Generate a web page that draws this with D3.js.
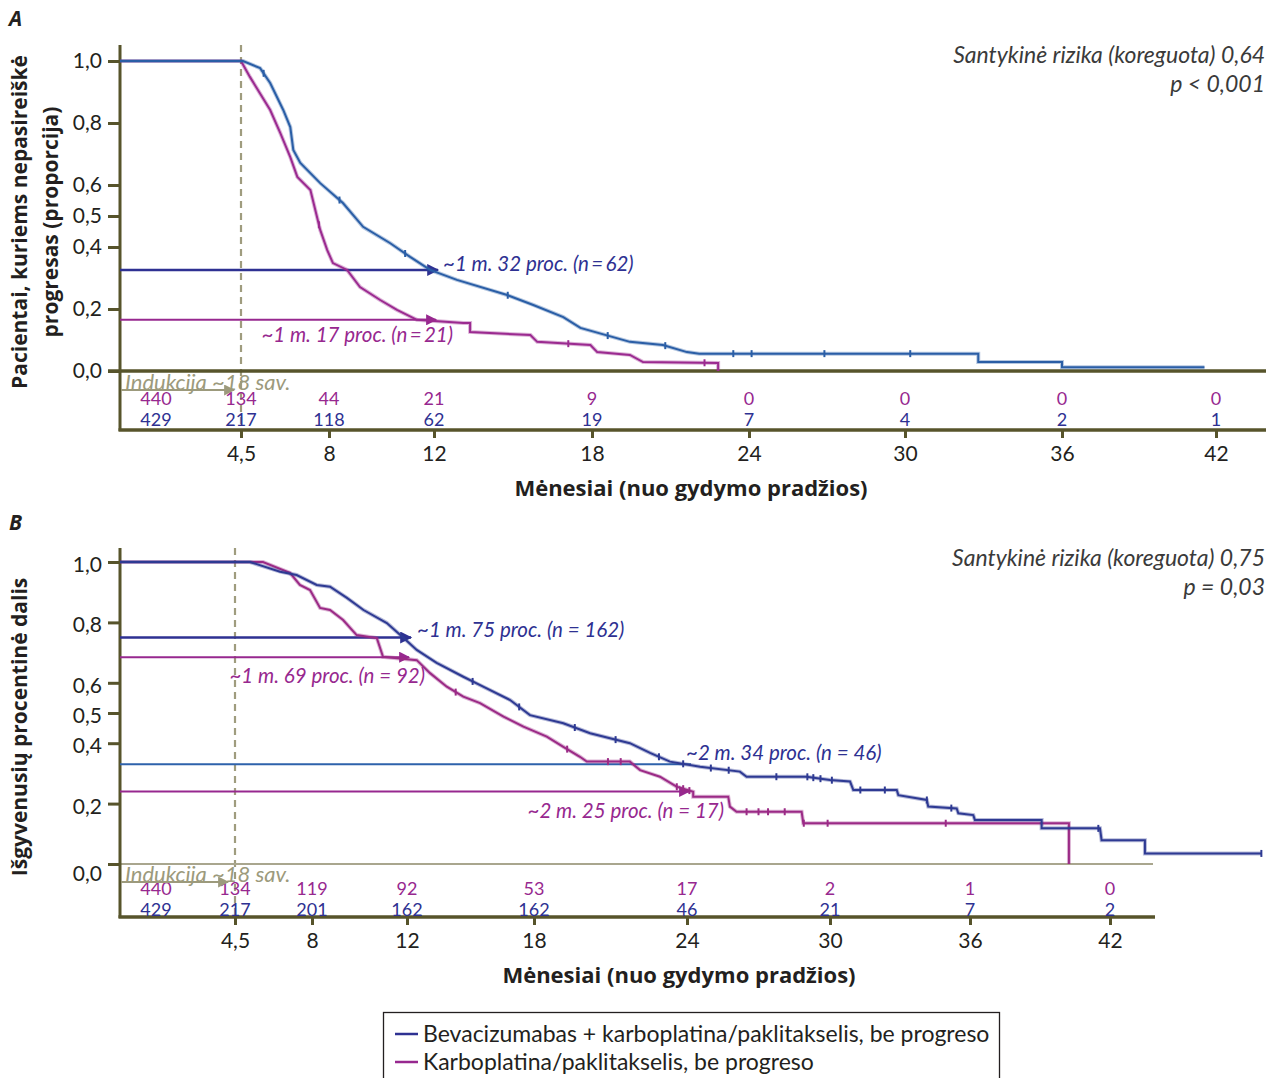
<!DOCTYPE html>
<html>
<head>
<meta charset="utf-8">
<script src="https://cdn.jsdelivr.net/npm/d3@7"></script>
<style>
  body { margin: 0; background: #fff; }
  text { font-family: Lato, "Open Sans", sans-serif; }
</style>
</head>
<body>
<div id="chart"></div>
<script>
// ---- data ----
var xTickMonths = [4.5, 8, 12, 18, 24, 30, 36, 42];
var xTickLabels = ["4,5", "8", "12", "18", "24", "30", "36", "42"];
var yTickValues = [0, 0.2, 0.4, 0.5, 0.6, 0.8, 1.0];
var yTickLabels = ["0,0", "0,2", "0,4", "0,5", "0,6", "0,8", "1,0"];

var riskMonths = [0, 4.5, 8, 12, 18, 24, 30, 36, 42];
var riskA_carbo = [440, 134, 44, 21, 9, 0, 0, 0, 0];
var riskA_bev   = [429, 217, 118, 62, 19, 7, 4, 2, 1];
var riskB_carbo = [440, 134, 119, 92, 53, 17, 2, 1, 0];
var riskB_bev   = [429, 217, 201, 162, 162, 46, 21, 7, 2];

// panel A: progression-free survival
var monthsA_bev = [0, 4.58, 5.26, 5.66, 6.18, 6.46, 6.58, 6.86, 7.65, 8.53, 9.30, 10.32, 11.09, 11.85,
  12.87, 14.78, 15.77, 16.91, 17.56, 19.45, 20.71, 21.63, 22.1, 32.8, 32.8, 36.0, 36.0, 41.55];
var survA_bev = [1, 1, 0.977, 0.929, 0.842, 0.787, 0.713, 0.671, 0.606, 0.542, 0.465, 0.413, 0.368, 0.326,
  0.294, 0.245, 0.213, 0.174, 0.139, 0.094, 0.084, 0.061, 0.056, 0.056, 0.029, 0.029, 0.012, 0.012];
var monthsA_carbo = [0, 4.5, 4.86, 5.66, 6.06, 6.46, 6.74, 7.26, 7.65, 7.93, 8.15, 8.69, 9.18, 9.95,
  10.59, 11.35, 13.11, 13.37, 13.37, 15.66, 15.92, 17.94, 18.2, 19.45, 19.95, 22.82, 22.82];
var survA_carbo = [1, 1, 0.948, 0.842, 0.768, 0.690, 0.626, 0.584, 0.455, 0.390, 0.348, 0.326, 0.271, 0.229,
  0.197, 0.165, 0.155, 0.155, 0.126, 0.116, 0.094, 0.084, 0.061, 0.052, 0.029, 0.026, 0];
var censA_bev = [5.4, 8.4, 10.9, 14.8, 18.6, 20.8, 23.4, 24.1, 26.9, 30.2];
var censA_carbo = [7.6, 17.1, 22.3];

// panel B: overall survival
var monthsB_bev = [0, 5.18, 6.55, 7.30, 8.20, 8.76, 9.47, 10.17, 11.15, 11.86, 12.46, 13.40, 14.66, 15.60,
  16.87, 17.81, 19.15, 20.20, 21.76, 22.55, 23.33, 24.55, 26.22, 26.5, 29.02, 30.0, 30.86, 31.0, 32.86,
  32.93, 34.15, 34.21, 35.43, 35.5, 36.14, 36.21, 39.07, 39.07, 41.57, 41.64, 43.5, 43.5, 48.52];
var survB_bev = [1, 1, 0.968, 0.957, 0.924, 0.918, 0.881, 0.841, 0.798, 0.748, 0.709, 0.666, 0.620, 0.587,
  0.543, 0.493, 0.466, 0.433, 0.400, 0.368, 0.339, 0.322, 0.306, 0.289, 0.289, 0.278, 0.273, 0.245, 0.245,
  0.228, 0.212, 0.190, 0.184, 0.168, 0.162, 0.146, 0.146, 0.118, 0.118, 0.079, 0.079, 0.035, 0.035];
var monthsB_carbo = [0, 5.77, 7.0, 7.45, 7.91, 8.34, 8.76, 9.31, 9.88, 10.73, 10.99, 12.46, 13.09, 13.88,
  14.66, 15.45, 16.56, 17.50, 18.50, 19.15, 19.80, 20.07, 21.76, 22.16, 22.94, 23.59, 24.26, 24.26, 25.73,
  25.80, 26.08, 28.81, 28.88, 40.24, 40.24];
var survB_carbo = [1, 1, 0.964, 0.924, 0.907, 0.848, 0.841, 0.808, 0.758, 0.748, 0.686, 0.675, 0.632, 0.587,
  0.554, 0.533, 0.488, 0.455, 0.422, 0.388, 0.355, 0.339, 0.339, 0.311, 0.289, 0.256, 0.239, 0.223, 0.223,
  0.190, 0.173, 0.173, 0.135, 0.135, 0];
var censB_bev = [15.1, 17.3, 19.6, 21.2, 22.9, 23.85, 25.0, 25.75, 27.75, 29.05, 29.3, 29.6, 30.08, 31.3,
  32.35, 34.15, 35.2, 41.5, 48.5];
var censB_carbo = [14.3, 19.3, 20.9, 21.4, 23.6, 23.85, 24.1, 26.5, 27.0, 27.4, 28.1, 28.9, 29.9, 34.96];

var refA_months = [12, 12];
var refA_surv = [0.326, 0.165];
var refA_series = ["bev", "carbo"];
var refA_labels = ["~1 m. 32 proc. (n\u2009=\u200962)", "~1 m. 17 proc. (n\u2009=\u200921)"];

var refB_months = [12, 12, 24, 24];
var refB_surv = [0.75, 0.685, 0.33, 0.24];
var refB_series = ["bev", "carbo", "bev2", "carbo"];
var refB_labels = ["~1 m. 75 proc. (n = 162)", "~1 m. 69 proc. (n = 92)",
  "~2 m. 34 proc. (n = 46)", "~2 m. 25 proc. (n = 17)"];

var hrA = ["Santykinė rizika (koreguota) 0,64", "p < 0,001"];
var hrB = ["Santykinė rizika (koreguota) 0,75", "p = 0,03"];
var legendLabels = ["Bevacizumabas + karboplatina/paklitakselis, be progreso",
  "Karboplatina/paklitakselis, be progreso"];

// ---- styles ----
var olive = "#57542b";
var oliveLight = "#a9a68e";
var induct = "#9c9a7c";
var blueText = "#2e3192";
var purple = "#97288f";
var colors = {
  A: { bev: "#2a5ea6", carbo: "#9b2a90" },
  B: { bev: "#2e3a93", carbo: "#9b2a86", bev2: "#2e62ab" }
};
var boldFont = "'Open Sans', Lato, sans-serif";

var svg = d3.select("#chart").append("svg")
  .attr("width", 1276)
  .attr("height", 1078);

var defs = svg.append("defs");
function marker(id, color, w, h) {
  defs.append("marker")
    .attr("id", id)
    .attr("viewBox", "0 0 10 10")
    .attr("refX", 9).attr("refY", 5)
    .attr("markerWidth", w).attr("markerHeight", h)
    .attr("markerUnits", "userSpaceOnUse")
    .attr("orient", "auto")
    .append("path")
    .attr("d", "M0,0 L10,5 L0,10 Z")
    .attr("fill", color);
}
marker("arrBlue", blueText, 13, 12);
marker("arrPurple", purple, 12, 11);
marker("arrInd", induct, 12, 11);

function curveValue(ms, ss, t) {
  var i = d3.bisectRight(ms, t);
  if (i <= 0) return ss[0];
  if (i >= ms.length) return ss[ss.length - 1];
  var t0 = ms[i - 1], t1 = ms[i];
  if (t1 === t0) return ss[i];
  return ss[i - 1] + (ss[i] - ss[i - 1]) * (t - t0) / (t1 - t0);
}

function drawPanel(p) {
  var g = svg.append("g");
  var x = p.x, y = p.y;

  g.append("text")
    .attr("x", 9).attr("y", p.letterY)
    .style("font-size", "21px").style("font-weight", "bold").style("font-style", "italic")
    .style("font-family", boldFont)
    .attr("fill", "#231f20")
    .text(p.letter);

  // induction dashed line
  g.append("line")
    .attr("x1", x(4.5)).attr("x2", x(4.5))
    .attr("y1", p.axisTop).attr("y2", p.riskAxisY)
    .attr("stroke", "#9f9c7e").attr("stroke-width", 2.2)
    .attr("stroke-dasharray", "7,5");

  // zero line
  g.append("line")
    .attr("x1", x(0) - 12).attr("x2", p.zeroEnd)
    .attr("y1", y(0)).attr("y2", y(0))
    .attr("stroke", p.zeroColor).attr("stroke-width", p.zeroWidth);

  // y axis
  var yAxis = g.append("g")
    .attr("transform", "translate(" + x(0) + ",0)")
    .call(d3.axisLeft(y).tickValues(yTickValues)
      .tickFormat(function (d, i) { return yTickLabels[i]; })
      .tickSize(12).tickPadding(6));
  yAxis.select(".domain").remove();
  yAxis.selectAll(".tick line").attr("stroke", olive).attr("stroke-width", 3);
  yAxis.selectAll(".tick text")
    .attr("fill", "#231f20")
    .attr("dy", function (d) { return d === 0 ? p.zeroLabelDy : p.yLabelDy; })
    .style("font-size", "21px").style("font-family", "Lato, sans-serif");
  g.append("line")
    .attr("x1", x(0)).attr("x2", x(0))
    .attr("y1", p.axisTop).attr("y2", p.riskAxisY + 1)
    .attr("stroke", olive).attr("stroke-width", 3);

  // reference lines
  p.refMonths.forEach(function (m, i) {
    var s = p.refSeries[i];
    var isBlue = s !== "carbo";
    g.append("line")
      .attr("x1", x(0)).attr("x2", x(m) + (isBlue ? 4 : 2))
      .attr("y1", y(p.refSurv[i])).attr("y2", y(p.refSurv[i]))
      .attr("stroke", s === "bev2" ? colors.B.bev2 : (isBlue ? blueText : purple))
      .attr("stroke-width", s === "bev" ? 2.6 : 2)
      .attr("marker-end", s === "bev2" ? null : (isBlue ? "url(#arrBlue)" : "url(#arrPurple)"));
  });

  // curves
  var line = d3.line()
    .x(function (d) { return x(d[0]); })
    .y(function (d) { return y(d[1]); });
  [["carbo", p.carboM, p.carboS, p.censCarbo], ["bev", p.bevM, p.bevS, p.censBev]].forEach(function (c) {
    var pts = c[1].map(function (m, i) { return [m, c[2][i]]; });
    var col = colors[p.letter][c[0]];
    g.append("path")
      .attr("d", line(pts))
      .attr("fill", "none")
      .attr("stroke", col)
      .attr("stroke-opacity", 0.35)
      .attr("stroke-width", 4);
    g.append("path")
      .attr("d", line(pts))
      .attr("fill", "none")
      .attr("stroke", col)
      .attr("stroke-width", 2);
    g.selectAll(null)
      .data(c[3])
      .enter().append("line")
      .attr("x1", function (t) { return x(t); })
      .attr("x2", function (t) { return x(t); })
      .attr("y1", function (t) { return y(curveValue(c[1], c[2], t)) - 3.5; })
      .attr("y2", function (t) { return y(curveValue(c[1], c[2], t)) + 3.5; })
      .attr("stroke", col).attr("stroke-width", 2);
  });

  // reference labels
  p.refLabels.forEach(function (txt, i) {
    var lp = p.refLabelPos[i];
    g.append("text")
      .attr("x", x(p.refMonths[i]) + lp[0])
      .attr("y", y(p.refSurv[i]) + lp[1])
      .attr("dy", "0.35em")
      .attr("text-anchor", lp[2])
      .attr("fill", p.refSeries[i] === "carbo" ? purple : blueText)
      .style("font-size", "20.5px").style("font-style", "italic")
      .text(txt);
  });

  // risk table axis
  var xAxis = g.append("g")
    .attr("transform", "translate(0," + p.riskAxisY + ")")
    .call(d3.axisBottom(x).tickValues(xTickMonths)
      .tickFormat(function (d, i) { return xTickLabels[i]; })
      .tickSize(8).tickPadding(8));
  xAxis.select(".domain").remove();
  xAxis.selectAll(".tick line").attr("stroke", olive).attr("stroke-width", 3);
  xAxis.selectAll(".tick text")
    .attr("fill", "#231f20")
    .style("font-size", "21px").style("font-family", "Lato, sans-serif");
  g.append("line")
    .attr("x1", x(0) - 1.5).attr("x2", p.axisEnd)
    .attr("y1", p.riskAxisY).attr("y2", p.riskAxisY)
    .attr("stroke", olive).attr("stroke-width", 3.5);

  // numbers at risk
  [[p.riskCarbo, purple, p.riskRowY[0]], [p.riskBev, blueText, p.riskRowY[1]]].forEach(function (r) {
    g.selectAll(null)
      .data(r[0])
      .enter().append("text")
      .attr("x", function (d, i) { return riskMonths[i] === 0 ? x(0) + 36 : x(riskMonths[i]); })
      .attr("y", r[2])
      .attr("dy", "0.35em")
      .attr("text-anchor", "middle")
      .attr("fill", r[1])
      .style("font-size", "18px")
      .text(function (d) { return d; });
  });

  // induction label + arrow
  g.append("text")
    .attr("x", x(0) + 5).attr("y", y(0) + p.inductDy)
    .attr("dy", "0.35em")
    .attr("fill", induct)
    .style("font-size", "22px").style("font-style", "italic")
    .text("Indukcija ~18 sav.");
  g.append("line")
    .attr("x1", x(0) + 1).attr("x2", x(4.5) - 7)
    .attr("y1", y(0) + p.inductDy + 8).attr("y2", y(0) + p.inductDy + 8)
    .attr("stroke", induct).attr("stroke-width", 2)
    .attr("marker-end", "url(#arrInd)");

  // hazard ratio text
  p.hr.forEach(function (t, i) {
    g.append("text")
      .attr("x", 1265).attr("y", p.hrY + i * 29)
      .attr("dy", "0.35em")
      .attr("text-anchor", "end")
      .attr("fill", "#3a3a3a")
      .style("font-size", "23px").style("font-style", "italic")
      .text(t);
  });

  // y axis title
  p.yTitle.forEach(function (t, i) {
    g.append("text")
      .attr("transform", "translate(" + (20 + i * 31) + "," + p.yTitleY + ") rotate(-90)")
      .attr("dy", "0.35em")
      .attr("text-anchor", "middle")
      .attr("fill", "#231f20")
      .style("font-size", "21px").style("font-weight", "bold")
      .style("font-family", boldFont)
      .text(t);
  });

  // x axis title
  g.append("text")
    .attr("x", p.xTitleX).attr("y", p.riskAxisY + 58)
    .attr("dy", "0.35em")
    .attr("text-anchor", "middle")
    .attr("fill", "#231f20")
    .style("font-size", "22px").style("font-weight", "bold")
    .style("font-family", boldFont)
    .text("Mėnesiai (nuo gydymo pradžios)");
}

drawPanel({
  letter: "A", letterY: 26,
  x: d3.scaleLinear().domain([0, 4.5, 8, 12, 18, 24, 30, 36, 42, 44])
    .range([120, 241, 329, 434, 592, 749, 905, 1062, 1216, 1267]),
  y: d3.scaleLinear().domain([0, 1]).range([371, 61]),
  axisTop: 45, riskAxisY: 430, axisEnd: 1266, zeroEnd: 1266,
  zeroColor: olive, zeroWidth: 3.5, yLabelDy: "0.32em", zeroLabelDy: "0.32em",
  bevM: monthsA_bev, bevS: survA_bev, carboM: monthsA_carbo, carboS: survA_carbo,
  censBev: censA_bev, censCarbo: censA_carbo,
  refMonths: refA_months, refSurv: refA_surv, refSeries: refA_series, refLabels: refA_labels,
  refLabelPos: [[9, -6, "start"], [19, 15, "end"]],
  riskCarbo: riskA_carbo, riskBev: riskA_bev, riskRowY: [399, 419.5],
  inductDy: 11,
  hr: hrA, hrY: 55,
  yTitle: ["Pacientai, kuriems nepasireiškė", "progresas (proporcija)"], yTitleY: 222,
  xTitleX: 691
});

drawPanel({
  letter: "B", letterY: 530,
  x: d3.scaleLinear().domain([0, 4.5, 8, 12, 18, 24, 30, 36, 42, 49])
    .range([120, 235, 312, 407, 534, 687, 830, 970, 1110, 1273]),
  y: d3.scaleLinear().domain([0, 1]).range([864, 562]),
  axisTop: 548, riskAxisY: 917, axisEnd: 1155, zeroEnd: 1153,
  zeroColor: oliveLight, zeroWidth: 2.2, yLabelDy: "0.45em", zeroLabelDy: "0.8em",
  bevM: monthsB_bev, bevS: survB_bev, carboM: monthsB_carbo, carboS: survB_carbo,
  censBev: censB_bev, censCarbo: censB_carbo,
  refMonths: refB_months, refSurv: refB_surv, refSeries: refB_series, refLabels: refB_labels,
  refLabelPos: [[10, -8, "start"], [18, 19, "end"], [-1, -12, "start"], [37, 19, "end"]],
  riskCarbo: riskB_carbo, riskBev: riskB_bev, riskRowY: [889, 909.5],
  inductDy: 10,
  hr: hrB, hrY: 558,
  yTitle: ["Išgyvenusių procentinė dalis"], yTitleY: 727,
  xTitleX: 679
});

// legend
var leg = svg.append("g");
leg.append("rect")
  .attr("x", 383.5).attr("y", 1012.5)
  .attr("width", 616).attr("height", 70)
  .attr("fill", "none").attr("stroke", "#231f20").attr("stroke-width", 1.3);
[blueText, purple].forEach(function (c, i) {
  leg.append("line")
    .attr("x1", 395).attr("x2", 418)
    .attr("y1", 1034 + i * 28).attr("y2", 1034 + i * 28)
    .attr("stroke", c).attr("stroke-width", 2.5);
  leg.append("text")
    .attr("x", 423).attr("y", 1034 + i * 28)
    .attr("dy", "0.35em")
    .attr("fill", "#231f20")
    .style("font-size", "23px")
    .text(legendLabels[i]);
});
</script>
</body>
</html>
